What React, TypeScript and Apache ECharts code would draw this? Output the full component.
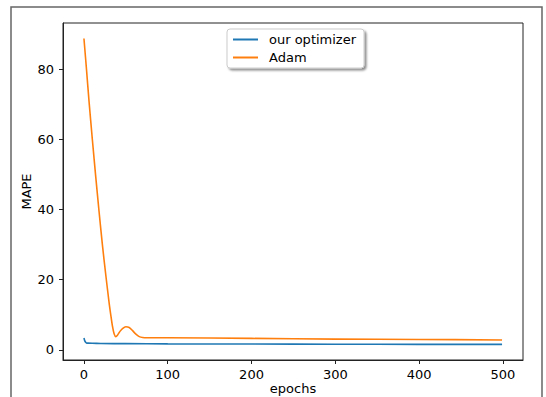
import React, { useEffect, useRef } from "react";
import * as echarts from "echarts";

const seriesNames = ["our optimizer", "Adam"];
const oursEpochs = [0, 1, 2, 3, 5, 10, 20, 50, 100, 200, 300, 400, 499];
const oursValues = [3.4, 2.6, 2.2, 2.0, 1.95, 1.9, 1.85, 1.8, 1.75, 1.7, 1.65, 1.6, 1.6];
const adamEpochs = [0, 3, 6, 10, 14, 18, 22, 26, 30, 32, 34, 36, 38, 40, 43, 46, 50, 54, 58, 62, 66, 70, 76, 100, 200, 300, 400, 499];
const adamValues = [88.7, 80, 71, 60, 49.5, 39.5, 30, 21.5, 13.5, 10, 6.8, 4.6, 3.8, 4.2, 5.3, 6.1, 6.6, 6.4, 5.5, 4.5, 3.8, 3.55, 3.5, 3.5, 3.3, 3.1, 3.0, 2.85];
const xTicks = [0, 100, 200, 300, 400, 500];
const yTicks = [0, 20, 40, 60, 80];

export default function App() {
  const ref = useRef<HTMLDivElement>(null);
  useEffect(() => {
    if (!ref.current) return;
    const chart = echarts.init(ref.current, null, { renderer: "svg" });
    const font = "DejaVu Sans";
    chart.setOption({
      animation: false,
      backgroundColor: "#fff",
      textStyle: { fontFamily: font },
      graphic: [
        {
          type: "rect",
          shape: { x: 11, y: 7, width: 531, height: 420 },
          style: { fill: "none", stroke: "#666", lineWidth: 1.5 },
          silent: true,
        },
      ],
      grid: {
        left: 63,
        top: 23,
        right: 23,
        bottom: 37,
        outerBoundsMode: "none",
        containLabel: false,
        show: true,
        borderColor: "#222",
        borderWidth: 1,
        backgroundColor: "transparent",
      },
      legend: {
        orient: "vertical",
        left: 227,
        top: 29,
        data: seriesNames,
        icon: "rect",
        itemWidth: 25,
        itemHeight: 2,
        itemGap: 5,
        padding: [4, 8, 4, 6],
        backgroundColor: "#fff",
        borderColor: "#ccc",
        borderWidth: 1,
        borderRadius: 3,
        shadowColor: "rgba(0,0,0,0.45)",
        shadowBlur: 2,
        shadowOffsetX: 2,
        shadowOffsetY: 2,
        textStyle: { fontFamily: font, fontSize: 13, color: "#000", padding: [0, 0, 0, 6] },
      },
      xAxis: {
        type: "value",
        min: -25,
        max: 524,
        name: "epochs",
        nameLocation: "middle",
        nameGap: 22,
        nameMoveOverlap: false,
        nameTextStyle: { fontFamily: font, fontSize: 13, color: "#000" },
        splitLine: { show: false },
        axisLine: { show: true, onZero: false, lineStyle: { color: "#222", width: 1 } },
        axisTick: { show: true, length: 4, customValues: xTicks, lineStyle: { color: "#222" } },
        axisLabel: { customValues: xTicks, margin: 8, fontFamily: font, fontSize: 13, color: "#000" },
      },
      yAxis: {
        type: "value",
        min: -2.85,
        max: 93.1,
        name: "MAPE",
        nameLocation: "middle",
        nameRotate: 90,
        nameGap: 30,
        nameMoveOverlap: false,
        nameTextStyle: { fontFamily: font, fontSize: 13, color: "#000" },
        splitLine: { show: false },
        axisLine: { show: true, onZero: false, lineStyle: { color: "#222", width: 1 } },
        axisTick: { show: true, length: 4, customValues: yTicks, lineStyle: { color: "#222" } },
        axisLabel: { customValues: yTicks, margin: 9, fontFamily: font, fontSize: 13, color: "#000" },
      },
      series: [
        {
          name: seriesNames[0],
          type: "line",
          data: oursEpochs.map((e, i) => [e, oursValues[i]]),
          symbol: "none",
          smooth: 0.3,
          lineStyle: { color: "#1f77b4", width: 1.6 },
          itemStyle: { color: "#1f77b4" },
        },
        {
          name: seriesNames[1],
          type: "line",
          data: adamEpochs.map((e, i) => [e, adamValues[i]]),
          symbol: "none",
          smooth: 0.3,
          lineStyle: { color: "#ff7f0e", width: 1.6 },
          itemStyle: { color: "#ff7f0e" },
        },
      ],
    });
    return () => chart.dispose();
  }, []);
  return (
    <div
      ref={ref}
      style={{ position: "absolute", left: 0, top: 0, width: 546, height: 397 }}
    />
  );
}
